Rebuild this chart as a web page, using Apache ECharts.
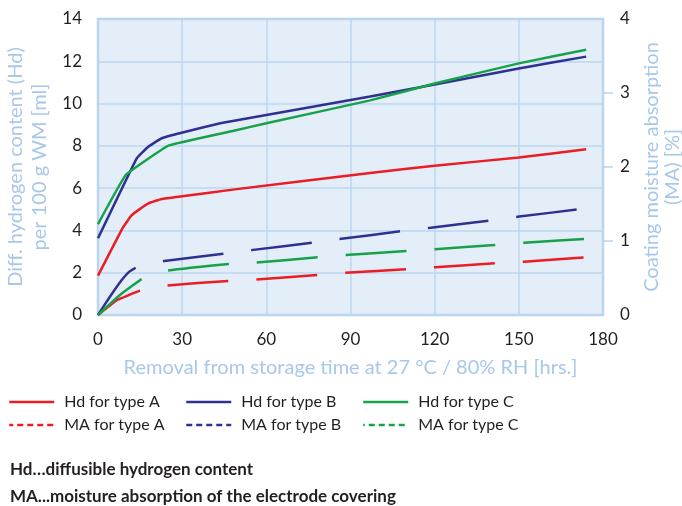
<!DOCTYPE html>
<html>
<head>
<meta charset="utf-8">
<title>Hydrogen content and moisture absorption</title>
<script src="https://cdn.jsdelivr.net/npm/echarts@6/dist/echarts.min.js"></script>
<style>
  html, body { margin: 0; padding: 0; background: #ffffff; }
  #chart { width: 682px; height: 506px; }
</style>
</head>
<body>
<div id="chart"></div>
<script>
// Time axis ticks (hours) and value-axis ticks
const timeTicks = [0, 30, 60, 90, 120, 150, 180];
const hdTicks = [0, 2, 4, 6, 8, 10, 12, 14];
const maTicks = [0, 1, 2, 3, 4];

// Diffusible hydrogen content, ml / 100 g WM  ([hours, value])
const hdTypeA = [[0, 1.86], [8.7, 4.1], [12, 4.72], [15, 5.02], [18, 5.28], [22.7, 5.49], [30, 5.62],
  [48, 5.93], [97, 6.72], [120, 7.06], [150, 7.45], [174, 7.84]];
const hdTypeB = [[0, 3.63], [13.8, 7.41], [17.9, 7.96], [22.7, 8.36], [29.8, 8.62], [44, 9.08],
  [60, 9.46], [97, 10.33], [120, 10.9], [150, 11.66], [174, 12.22]];
const hdTypeC = [[0, 4.3], [9.9, 6.62], [25.1, 8.01], [48, 8.7], [60, 9.07], [97, 10.15],
  [120, 10.95], [150, 11.9], [174, 12.55]];

// Coating moisture absorption, %  ([hours, value])
const maTypeA = [[0, 0], [6.7, 0.2], [15, 0.33], [24.8, 0.4], [46.4, 0.46], [56.5, 0.48], [78.5, 0.54],
  [88.3, 0.57], [110.2, 0.62], [120.1, 0.645], [142, 0.7], [151.9, 0.72], [173.8, 0.78]];
const maTypeB = [[0, 0], [4.3, 0.25], [8.4, 0.47], [11, 0.58], [14, 0.65], [23.6, 0.73], [45.3, 0.83],
  [55.3, 0.88], [77.1, 0.98], [86.8, 1.03], [108.6, 1.135], [118.6, 1.18], [140.3, 1.28],
  [150.1, 1.33], [171.8, 1.43], [174, 1.44]];
const maTypeC = [[0, 0], [7.8, 0.27], [15.6, 0.486], [24.8, 0.6], [46.8, 0.69], [56.5, 0.71],
  [78.5, 0.78], [88.4, 0.81], [110.2, 0.865], [120.1, 0.89], [141.8, 0.946], [151.9, 0.977],
  [173.8, 1.03]];

const seriesNames = ['Hd for type A', 'Hd for type B', 'Hd for type C',
  'MA for type A', 'MA for type B', 'MA for type C'];

const RED = '#ec1c24';
const BLUE = '#2e3192';
const GREEN = '#17a24a';
const AXIS_NAME = '#a8c8eb';
const GRID_LINE = '#bdd6ef';
const TEXT = '#231f20';
const FONT = 'Lato, "Open Sans", sans-serif';

function hdSeries(name, data, color) {
  return {
    name, type: 'line', data, yAxisIndex: 0, symbol: 'none', smooth: 0.08,
    lineStyle: { color, width: 2.5 }, itemStyle: { color }, z: 3
  };
}
function maSeries(name, data, color, offset) {
  return {
    name, type: 'line', data, yAxisIndex: 1, symbol: 'none', smooth: 0.08,
    lineStyle: { color, width: 2.5, type: [61, 28], dashOffset: offset },
    itemStyle: { color }, z: 3
  };
}

function legendAt(name, left, top, dashed) {
  return {
    data: [name], left, top, padding: 0, itemWidth: 45, itemHeight: 14,
    selectedMode: false,
    textStyle: { color: TEXT, fontFamily: FONT, fontSize: 16, padding: [0, 0, 0, 5] },
    itemStyle: { color: 'transparent', borderWidth: 0, opacity: 0 },
    lineStyle: dashed ? { type: [6, 4], width: 2.5 } : { width: 2.5 }
  };
}

const chart = echarts.init(document.getElementById('chart'), null, { renderer: 'canvas' });

chart.setOption({
  animation: false,
  backgroundColor: '#ffffff',
  grid: {
    left: 98, right: 79, top: 19, bottom: 191,
    outerBoundsMode: 'none', containLabel: false,
    show: true, backgroundColor: '#e4eef8', borderColor: '#b6d2ee', borderWidth: 2.5
  },
  legend: [
    legendAt(seriesNames[0], 8, 394, false),
    legendAt(seriesNames[1], 185, 394, false),
    legendAt(seriesNames[2], 362, 394, false),
    legendAt(seriesNames[3], 8, 417, true),
    legendAt(seriesNames[4], 185, 417, true),
    legendAt(seriesNames[5], 362, 417, true)
  ],
  xAxis: {
    type: 'value', min: timeTicks[0], max: timeTicks[timeTicks.length - 1], interval: 30,
    name: 'Removal from storage time at 27 °C / 80% RH [hrs.]',
    nameLocation: 'middle', nameGap: 43,
    nameTextStyle: { color: AXIS_NAME, fontFamily: FONT, fontSize: 20 },
    axisLine: { show: false }, axisTick: { show: false },
    axisLabel: { color: TEXT, fontFamily: FONT, fontSize: 17, margin: 16 },
    splitLine: { show: true, lineStyle: { color: GRID_LINE, width: 1.5 } }
  },
  yAxis: [
    {
      type: 'value', min: hdTicks[0], max: hdTicks[hdTicks.length - 1], interval: 2,
      name: 'Diff. hydrogen content (Hd)\nper 100 g WM [ml]',
      nameLocation: 'middle', nameGap: 40, nameRotate: 90,
      nameTextStyle: { color: AXIS_NAME, fontFamily: FONT, fontSize: 20, lineHeight: 24 },
      axisLine: { show: false }, axisTick: { show: false },
      axisLabel: { color: TEXT, fontFamily: FONT, fontSize: 17, margin: 16 },
      splitLine: { show: true, lineStyle: { color: GRID_LINE, width: 1.5 } }
    },
    {
      type: 'value', position: 'right', min: maTicks[0], max: maTicks[maTicks.length - 1], interval: 1,
      name: 'Coating moisture absorption\n(MA) [%]',
      nameLocation: 'middle', nameGap: 38, nameRotate: 90,
      nameTextStyle: { color: AXIS_NAME, fontFamily: FONT, fontSize: 20, lineHeight: 21 },
      axisLine: { show: false },
      axisTick: { show: true, length: 10, customValues: [1, 2, 3],
        lineStyle: { color: '#b6d2ee', width: 1.5 } },
      axisLabel: { color: TEXT, fontFamily: FONT, fontSize: 17, margin: 17 },
      splitLine: { show: false }
    }
  ],
  graphic: [
    {
      type: 'text', left: 10, top: 461,
      style: { text: 'Hd…diffusible hydrogen content', fill: TEXT,
        font: 'bold 17px ' + FONT }
    },
    {
      type: 'text', left: 10, top: 488,
      style: { text: 'MA...moisture absorption of the electrode covering', fill: TEXT,
        font: 'bold 17px ' + FONT }
    }
  ],
  series: [
    hdSeries(seriesNames[0], hdTypeA, RED),
    hdSeries(seriesNames[1], hdTypeB, BLUE),
    hdSeries(seriesNames[2], hdTypeC, GREEN),
    maSeries(seriesNames[3], maTypeA, RED, 12),
    maSeries(seriesNames[4], maTypeB, BLUE, 0),
    maSeries(seriesNames[5], maTypeC, GREEN, 4.5)
  ]
});
</script>
</body>
</html>
